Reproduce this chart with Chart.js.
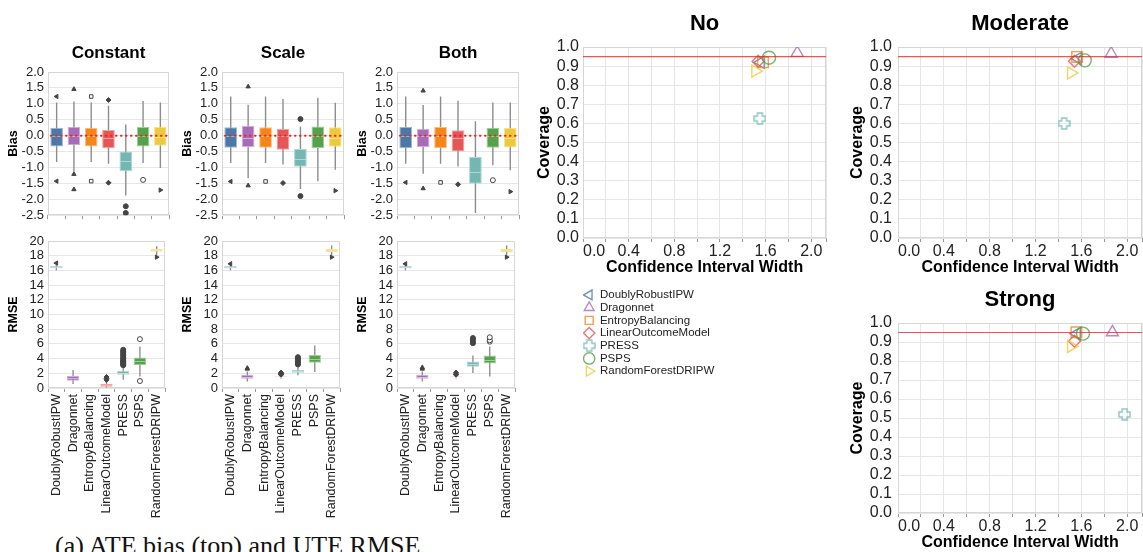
<!DOCTYPE html>
<html>
<head>
<meta charset="utf-8">
<script src="https://cdn.jsdelivr.net/npm/chart.js@4"></script>
<style>
  body { margin: 0; background: #fff; width: 1143px; height: 552px; overflow: hidden; position: relative; }
  canvas { position: absolute; }
  #caption { position: absolute; left: 55px; top: 531px; font: 26px 'Liberation Serif', 'Times New Roman', serif; color: #111; white-space: nowrap; }
</style>
</head>
<body>
<div id="caption">(a) ATE bias (top) and UTE RMSE</div>
<script>
const methods = ['DoublyRobustIPW', 'Dragonnet', 'EntropyBalancing', 'LinearOutcomeModel', 'PRESS', 'PSPS', 'RandomForestDRIPW'];
const boxColors = ['#4c78a8', '#a66cb8', '#f58518', '#e45756', '#72b7b2', '#54a24b', '#eeca3b'];

// ATE bias, box = [q1, q3], whisk = [low, high]
const biasConstBox = [[-0.34, 0.25], [-0.30, 0.28], [-0.34, 0.25], [-0.40, 0.18], [-1.12, -0.50], [-0.34, 0.27], [-0.32, 0.28]];
const biasConstMed = [0.0, 0.0, 0.0, -0.06, -0.81, 0.0, -0.03];
const biasConstWhisk = [[-0.83, 1.04], [-1.12, 1.07], [-0.83, 1.04], [-0.88, 0.94], [-1.88, 0.35], [-0.86, 1.09], [-1.02, 1.04]];
const biasConstOut = [[1.23, -1.43], [1.46, -1.21, -1.69], [1.23, -1.43], [1.12, -1.48], [-2.22, -2.43], [-1.39], [-1.71]];

const biasScaleBox = [[-0.38, 0.26], [-0.36, 0.31], [-0.38, 0.26], [-0.44, 0.21], [-0.98, -0.42], [-0.39, 0.29], [-0.35, 0.26]];
const biasScaleMed = [0.0, -0.07, 0.0, -0.01, -0.73, 0.0, -0.08];
const biasScaleWhisk = [[-0.86, 1.23], [-1.34, 0.97], [-0.86, 1.23], [-0.91, 1.15], [-1.68, 0.29], [-1.43, 1.19], [-1.07, 1.03]];
const biasScaleOut = [[-1.44], [1.54, -1.57], [-1.44], [-1.49], [0.52, -1.90], [], [-1.73]];

const biasBothBox = [[-0.40, 0.27], [-0.36, 0.22], [-0.40, 0.27], [-0.50, 0.17], [-1.51, -0.67], [-0.38, 0.25], [-0.37, 0.25]];
const biasBothMed = [0.0, -0.01, 0.0, -0.08, -1.14, -0.01, -0.07];
const biasBothWhisk = [[-0.88, 1.23], [-1.20, 0.96], [-0.88, 1.23], [-0.97, 1.10], [-2.43, 0.45], [-0.93, 1.04], [-1.09, 1.04]];
const biasBothOut = [[-1.47], [1.41, -1.66], [-1.47], [-1.53], [], [-1.40], [-1.76]];

// UTE RMSE
const rmseConstBox = [[16.3, 16.55], [1.0, 1.63], null, [0.18, 0.54], [1.81, 2.35], [3.08, 4.16], [18.55, 18.9]];
const rmseConstMed = [16.42, 1.31, null, 0.36, 2.08, 3.67, 18.72];
const rmseConstWhisk = [[16.0, 16.8], [0.54, 2.44], null, [0.0, 0.9], [1.13, 3.0], [1.58, 5.66], [18.1, 19.3]];
const rmseConstOut = [[17.0], [], [], [1.1, 1.3, 1.5], [3.1, 3.2, 3.3, 3.4, 3.5, 3.6, 3.7, 3.8, 4.0, 4.2, 4.4, 4.6, 4.8, 5.0, 5.2], [6.65, 0.95], [17.8]];

const rmseScaleBox = [[16.3, 16.55], [1.27, 1.81], null, [1.45, 1.55], [2.08, 2.49], [3.44, 4.5], [18.5, 18.9]];
const rmseScaleMed = [16.42, 1.54, null, 1.5, 2.26, 3.98, 18.72];
const rmseScaleWhisk = [[16.0, 16.8], [0.9, 2.26], null, [1.3, 1.7], [1.72, 2.9], [2.17, 5.79], [18.1, 19.4]];
const rmseScaleOut = [[16.9], [2.6, 2.7], [], [1.8, 1.9, 2.0, 2.1], [3.2, 3.4, 3.6, 3.8, 4.0, 4.2], [], [17.8]];

const rmseBothBox = [[16.3, 16.55], [1.27, 1.81], null, [1.45, 1.55], [2.9, 3.6], [3.35, 4.43], [18.5, 18.9]];
const rmseBothMed = [16.42, 1.54, null, 1.5, 3.26, 3.85, 18.72];
const rmseBothWhisk = [[16.0, 16.8], [0.9, 2.26], null, [1.3, 1.7], [2.04, 4.43], [1.58, 5.66], [18.1, 19.4]];
const rmseBothOut = [[16.9], [2.6, 2.8], [], [1.8, 1.9, 2.1], [6.1, 6.3, 6.6, 6.8], [6.3, 6.5, 6.9], [17.8]];

// coverage vs confidence interval width
const noWidth = [1.557, 1.877, 1.577, 1.534, 1.55, 1.63, 1.51];
const noCov = [0.92, 0.969, 0.92, 0.925, 0.625, 0.944, 0.874];
const modWidth = [1.57, 1.86, 1.563, 1.54, 1.45, 1.63, 1.51];
const modCov = [0.94, 0.965, 0.948, 0.925, 0.60, 0.93, 0.864];
const strongWidth = [1.56, 1.871, 1.557, 1.54, 1.977, 1.614, 1.51];
const strongCov = [0.944, 0.951, 0.951, 0.904, 0.519, 0.944, 0.877];
const covXTicks = [0, 0.2, 0.4, 0.6, 0.8, 1.0, 1.2, 1.4, 1.6, 1.8, 2.0];
const nominal = 0.95;

Chart.defaults.font.family = "'Liberation Sans', Arial, sans-serif";
Chart.defaults.color = '#222';
Chart.defaults.animation = false;
Chart.defaults.plugins.tooltip.enabled = false;
Chart.defaults.plugins.legend.display = false;

function mk(left, top, w, h) {
  const c = document.createElement('canvas');
  c.width = w; c.height = h;
  c.style.left = left + 'px'; c.style.top = top + 'px';
  c.style.width = w + 'px'; c.style.height = h + 'px';
  document.body.appendChild(c);
  return c;
}

function rgba(hex, a) {
  const n = parseInt(hex.slice(1), 16);
  return `rgba(${n >> 16},${(n >> 8) & 255},${n & 255},${a})`;
}

// lighter version of a colour, used for box outlines
function tint(hex, t) {
  const n = parseInt(hex.slice(1), 16);
  const f = v => Math.round(v + (255 - v) * t);
  return `rgb(${f(n >> 16)},${f((n >> 8) & 255)},${f(n & 255)})`;
}

function plusIcon(size, color) {
  const c = document.createElement('canvas');
  c.width = c.height = size;
  const g = c.getContext('2d');
  const a = 1, w = size * 0.38, i = (size - w) / 2, s = size - a;
  g.strokeStyle = color; g.lineWidth = 1.4;
  g.beginPath();
  [[i, a], [i + w, a], [i + w, i], [s, i], [s, i + w], [i + w, i + w], [i + w, s], [i, s], [i, i + w], [a, i + w], [a, i], [i, i]]
    .forEach((p, k) => k ? g.lineTo(p[0], p[1]) : g.moveTo(p[0], p[1]));
  g.closePath(); g.stroke();
  return c;
}

const frame = {
  id: 'frame',
  beforeDatasetsDraw(chart) {
    const {ctx, chartArea: a} = chart;
    ctx.save();
    ctx.strokeStyle = '#d6d6d6'; ctx.lineWidth = 1;
    ctx.strokeRect(Math.round(a.left) + 0.5, Math.round(a.top) + 0.5, Math.round(a.width) - 1, Math.round(a.height) - 1);
    ctx.restore();
  }
};

const boxMarks = {
  id: 'boxMarks',
  afterDatasetsDraw(chart, args, opts) {
    const {ctx, chartArea: a, scales: {y}} = chart;
    const bars = chart.getDatasetMeta(1).data;
    ctx.save();
    ctx.strokeStyle = 'rgba(255,255,255,0.45)'; ctx.lineWidth = 1;
    opts.med.forEach((m, i) => {
      if (m === null || !bars[i]) return;
      const b = bars[i], py = Math.round(y.getPixelForValue(m)) + 0.5;
      ctx.beginPath(); ctx.moveTo(b.x - b.width / 2 + 1, py); ctx.lineTo(b.x + b.width / 2 - 1, py); ctx.stroke();
    });
    if (typeof opts.ref === 'number') {
      const py = y.getPixelForValue(opts.ref);
      ctx.strokeStyle = '#ff1a1a'; ctx.lineWidth = 2; ctx.lineCap = 'round';
      ctx.setLineDash([0.5, 4.5]);
      ctx.beginPath(); ctx.moveTo(a.left + 3, py); ctx.lineTo(a.right, py); ctx.stroke();
    }
    ctx.restore();
  }
};

const refLine = {
  id: 'refLine',
  afterDatasetsDraw(chart, args, opts) {
    const {ctx, chartArea: a, scales: {y}} = chart;
    const py = y.getPixelForValue(opts.value);
    ctx.save();
    ctx.strokeStyle = 'rgba(235,40,40,0.8)'; ctx.lineWidth = 1.2;
    ctx.beginPath(); ctx.moveTo(a.left, py); ctx.lineTo(a.right, py); ctx.stroke();
    ctx.restore();
  }
};

const outStyle = ['triangle', 'triangle', 'rect', 'rectRot', 'circle', 'circle', 'triangle'];
const outRot = [-90, 0, 0, 0, 0, 0, 90];
const outHollow = [false, false, true, false, false, true, false];

const panelX = [[48, 170], [222, 345], [397, 520]];

function boxChart(k, row, title, box, med, whisk, out) {
  const [L, R] = panelX[k];
  const top = row === 0;
  const canvasTop = top ? 40 : 225;
  const areaTop = top ? 72 : 241, areaBottom = top ? 217 : 388;
  const xh = top ? 10 : 135;
  const w = R - L + 48 + 4, h = areaBottom - canvasTop + xh;
  const pts = [];
  out.forEach((arr, i) => arr.forEach(v => pts.push({x: methods[i], y: v})));
  const mi = c => methods.indexOf(c.raw.x);
  new Chart(mk(L - 48, canvasTop, w, h), {
    type: 'bar',
    data: {
      labels: methods,
      datasets: [
        {data: whisk, backgroundColor: '#8c8c8c', barPercentage: 0.08, categoryPercentage: 1, grouped: false, order: 3},
        {data: box, backgroundColor: boxColors, borderColor: boxColors.map(c => tint(c, 0.45)), borderWidth: 1, borderSkipped: false,
         barPercentage: 0.73, categoryPercentage: 1, grouped: false, order: 2},
        {type: 'scatter', data: pts, order: 1,
         pointStyle: c => outStyle[mi(c)], pointRotation: c => outRot[mi(c)], pointRadius: 2.5,
         pointBackgroundColor: c => outHollow[mi(c)] ? '#fff' : '#444', pointBorderColor: '#444', pointBorderWidth: 1}
      ]
    },
    options: {
      responsive: false,
      layout: {padding: {left: 0, right: 4, top: top ? 0 : areaTop - canvasTop, bottom: 0}},
      plugins: {
        title: top ? {display: true, text: title, fullSize: false, color: '#000', font: {size: 17, weight: 'bold'},
                      padding: {top: 3, bottom: areaTop - canvasTop - 3 - 20.4}} : {display: false},
        boxMarks: {med: med, ref: top ? 0 : null}
      },
      scales: {
        x: {
          grid: {drawOnChartArea: false, tickColor: '#999', tickLength: 4},
          border: {display: false},
          ticks: top ? {display: false} : {minRotation: 90, maxRotation: 90, autoSkip: false, padding: 2, font: {size: 12.5}, color: '#222'},
          afterFit: s => { s.height = xh; }
        },
        y: {
          min: top ? -2.5 : 0, max: top ? 2.0 : 20,
          ticks: {stepSize: top ? 0.5 : 2, autoSkip: false, padding: 4, font: {size: 13}, color: '#222',
                  callback: v => top ? v.toFixed(1) : String(v)},
          grid: {color: '#e6e6e6', drawTicks: false},
          border: {display: false},
          title: {display: true, text: top ? 'Bias' : 'RMSE', color: '#000', font: {size: 12.5, weight: 'bold'}, padding: {top: 6, bottom: 0}},
          afterFit: s => { s.width = 48; }
        }
      }
    },
    plugins: [frame, boxMarks]
  });
}

boxChart(0, 0, 'Constant', biasConstBox, biasConstMed, biasConstWhisk, biasConstOut);
boxChart(1, 0, 'Scale', biasScaleBox, biasScaleMed, biasScaleWhisk, biasScaleOut);
boxChart(2, 0, 'Both', biasBothBox, biasBothMed, biasBothWhisk, biasBothOut);
boxChart(0, 1, '', rmseConstBox, rmseConstMed, rmseConstWhisk, rmseConstOut);
boxChart(1, 1, '', rmseScaleBox, rmseScaleMed, rmseScaleWhisk, rmseScaleOut);
boxChart(2, 1, '', rmseBothBox, rmseBothMed, rmseBothWhisk, rmseBothOut);

const markColors = boxColors.map(c => rgba(c, 0.8));
const covStyle = ['triangle', 'triangle', 'rect', 'rectRot', plusIcon(13, markColors[4]), 'circle', 'triangle'];
const covRot = [-90, 0, 0, 0, 0, 0, 90];
const covRadius = [7, 7, 7.5, 6, 6, 6.5, 7];

function covDatasets(xs, ys) {
  return methods.map((m, i) => ({
    label: m,
    data: xs ? [{x: xs[i], y: ys[i]}] : [],
    pointStyle: covStyle[i], pointRotation: covRot[i], pointRadius: covRadius[i],
    pointBackgroundColor: 'rgba(0,0,0,0)', pointBorderColor: markColors[i], pointBorderWidth: 1.4,
    backgroundColor: 'rgba(0,0,0,0)', borderColor: markColors[i], borderWidth: 1.4
  }));
}

function covChart(left, top, yw, areaTop, areaBottom, areaW, title, xs, ys) {
  const w = yw + areaW + 5, h = areaBottom + 45 - top;
  const tTop = areaTop - top - 26.4 - 10.3;
  new Chart(mk(left, top, w, h), {
    type: 'scatter',
    data: {datasets: covDatasets(xs, ys).reverse()},
    options: {
      responsive: false,
      layout: {padding: {left: 0, right: 5, top: 0, bottom: 0}},
      plugins: {
        title: {display: true, text: title, fullSize: false, color: '#000', font: {size: 22, weight: 'bold'},
                padding: {top: tTop, bottom: 10.3}},
        refLine: {value: nominal}
      },
      scales: {
        x: {
          type: 'linear', min: 0, max: 2.13,
          afterBuildTicks: s => { s.ticks = covXTicks.map(v => ({value: v})).concat([{value: s.max}]); },
          ticks: {align: 'inner', padding: 0, font: {size: 16}, color: '#222', autoSkip: false, maxRotation: 0,
                  callback: v => (Math.round(v * 10) % 4 === 0 && v <= 2.0001) ? v.toFixed(1) : ''},
          grid: {color: '#e6e6e6', tickColor: '#999', tickLength: 4},
          border: {display: false},
          title: {display: true, text: 'Confidence Interval Width', color: '#000', font: {size: 16, weight: 'bold'}, padding: {top: 0, bottom: 5.4}},
          afterFit: s => { s.height = 45; }
        },
        y: {
          min: 0, max: 1,
          ticks: {stepSize: 0.1, autoSkip: false, padding: yw - 49, font: {size: 16}, color: '#222', callback: v => v.toFixed(1)},
          grid: {color: '#e6e6e6', drawTicks: false},
          border: {display: false},
          title: {display: true, text: 'Coverage', color: '#000', font: {size: 16, weight: 'bold'}, padding: {top: 5.4, bottom: 0}},
          afterFit: s => { s.width = yw; }
        }
      }
    },
    plugins: [frame, refLine]
  });
}

covChart(530, 0, 53, 47, 238, 247, 'No', noWidth, noCov);
covChart(843, 0, 55, 47, 238, 248, 'Moderate', modWidth, modCov);
covChart(843, 280, 55, 323, 513, 248, 'Strong', strongWidth, strongCov);

// legend for the coverage panels
new Chart(mk(583, 288, 340, 100), {
  type: 'scatter',
  data: {datasets: covDatasets(null, null)},
  options: {
    responsive: false,
    layout: {padding: 0},
    scales: {x: {display: false}, y: {display: false}},
    plugins: {
      legend: {display: true, position: 'left', align: 'start',
               labels: {usePointStyle: true, boxWidth: 10, boxHeight: 8, padding: 1.2, color: '#222', font: {size: 11.5}}}
    }
  }
});
</script>
</body>
</html>
